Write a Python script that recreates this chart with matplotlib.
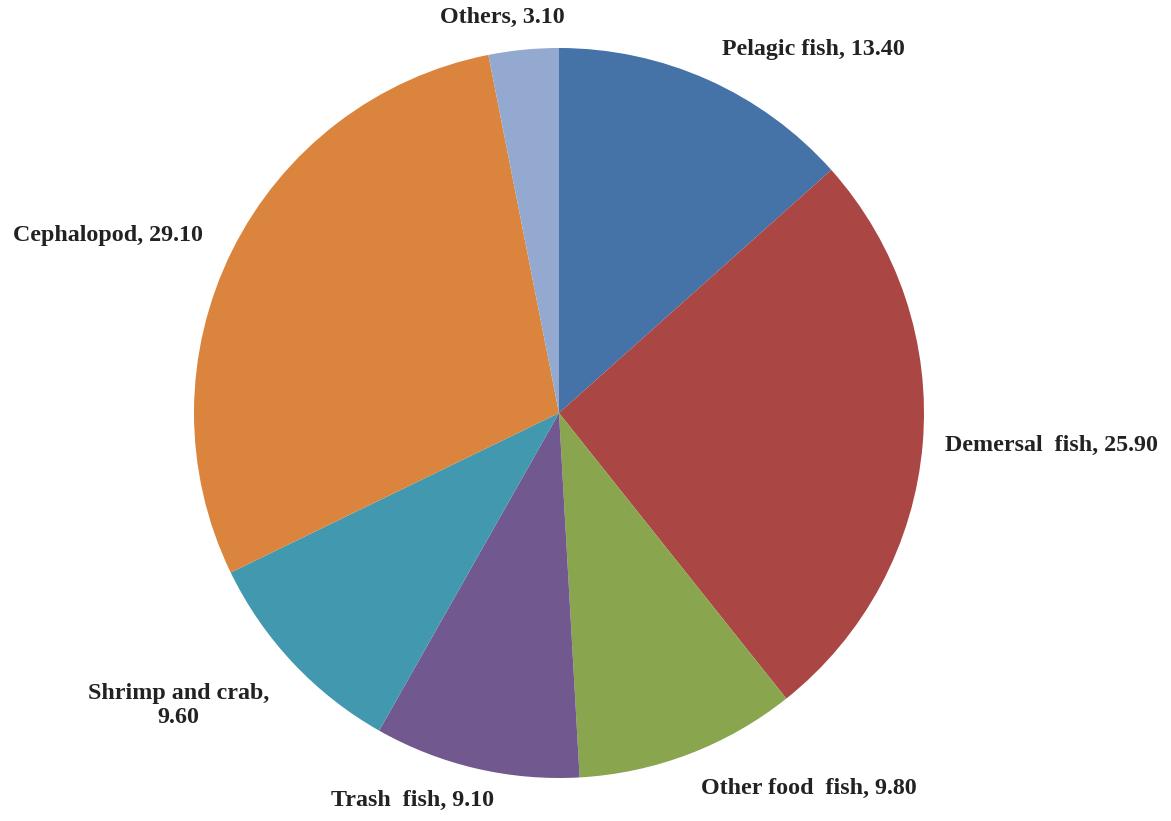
import numpy as np
import matplotlib.pyplot as plt

categories = ['Pelagic fish', 'Demersal  fish', 'Other food  fish', 'Trash  fish',
              'Shrimp and crab', 'Cephalopod', 'Others']
values = [13.40, 25.90, 9.80, 9.10, 9.60, 29.10, 3.10]
colors = ['#4572A7', '#AA4643', '#89A54E', '#71588F', '#4198AF', '#DB843D', '#93A9CF']

plt.rcParams['font.family'] = ['Liberation Serif', 'DejaVu Serif']

fig = plt.figure(figsize=(11.71, 8.21), dpi=100)
ax = fig.add_axes([194 / 1171, 43 / 821, 730 / 1171, 730 / 821])

wedges, _ = ax.pie(values, colors=colors, startangle=90, counterclock=False,
                   radius=1.0, wedgeprops=dict(linewidth=0))

# data labels, outside end
for w, name, v in zip(wedges, categories, values):
    ang = np.deg2rad((w.theta1 + w.theta2) / 2)
    c, s = np.cos(ang), np.sin(ang)
    if name == 'Shrimp and crab':
        txt = '%s,\n%.2f' % (name, v)
    else:
        txt = '%s, %.2f' % (name, v)
    r = 1.09
    if abs(s) < 0.2:
        r = 1.062
    x, y = r * c, r * s
    if abs(c) < 0.15:
        ha = 'center'
        x -= 0.05
    elif c < 0:
        ha = 'right'
        if s < -0.9:
            x += 0.07
        elif s < -0.5:
            y -= 0.055
    else:
        ha = 'left'
        if s < -0.9:
            y -= 0.01
    ax.text(x, y, txt, ha=ha, va='center', fontsize=17.3, fontweight='bold',
            multialignment='center', color='#222222')

ax.set_xlim(-1, 1)
ax.set_ylim(-1, 1)
ax.set_aspect('equal')
ax.axis('off')

fig.savefig('out.png', dpi=100)
